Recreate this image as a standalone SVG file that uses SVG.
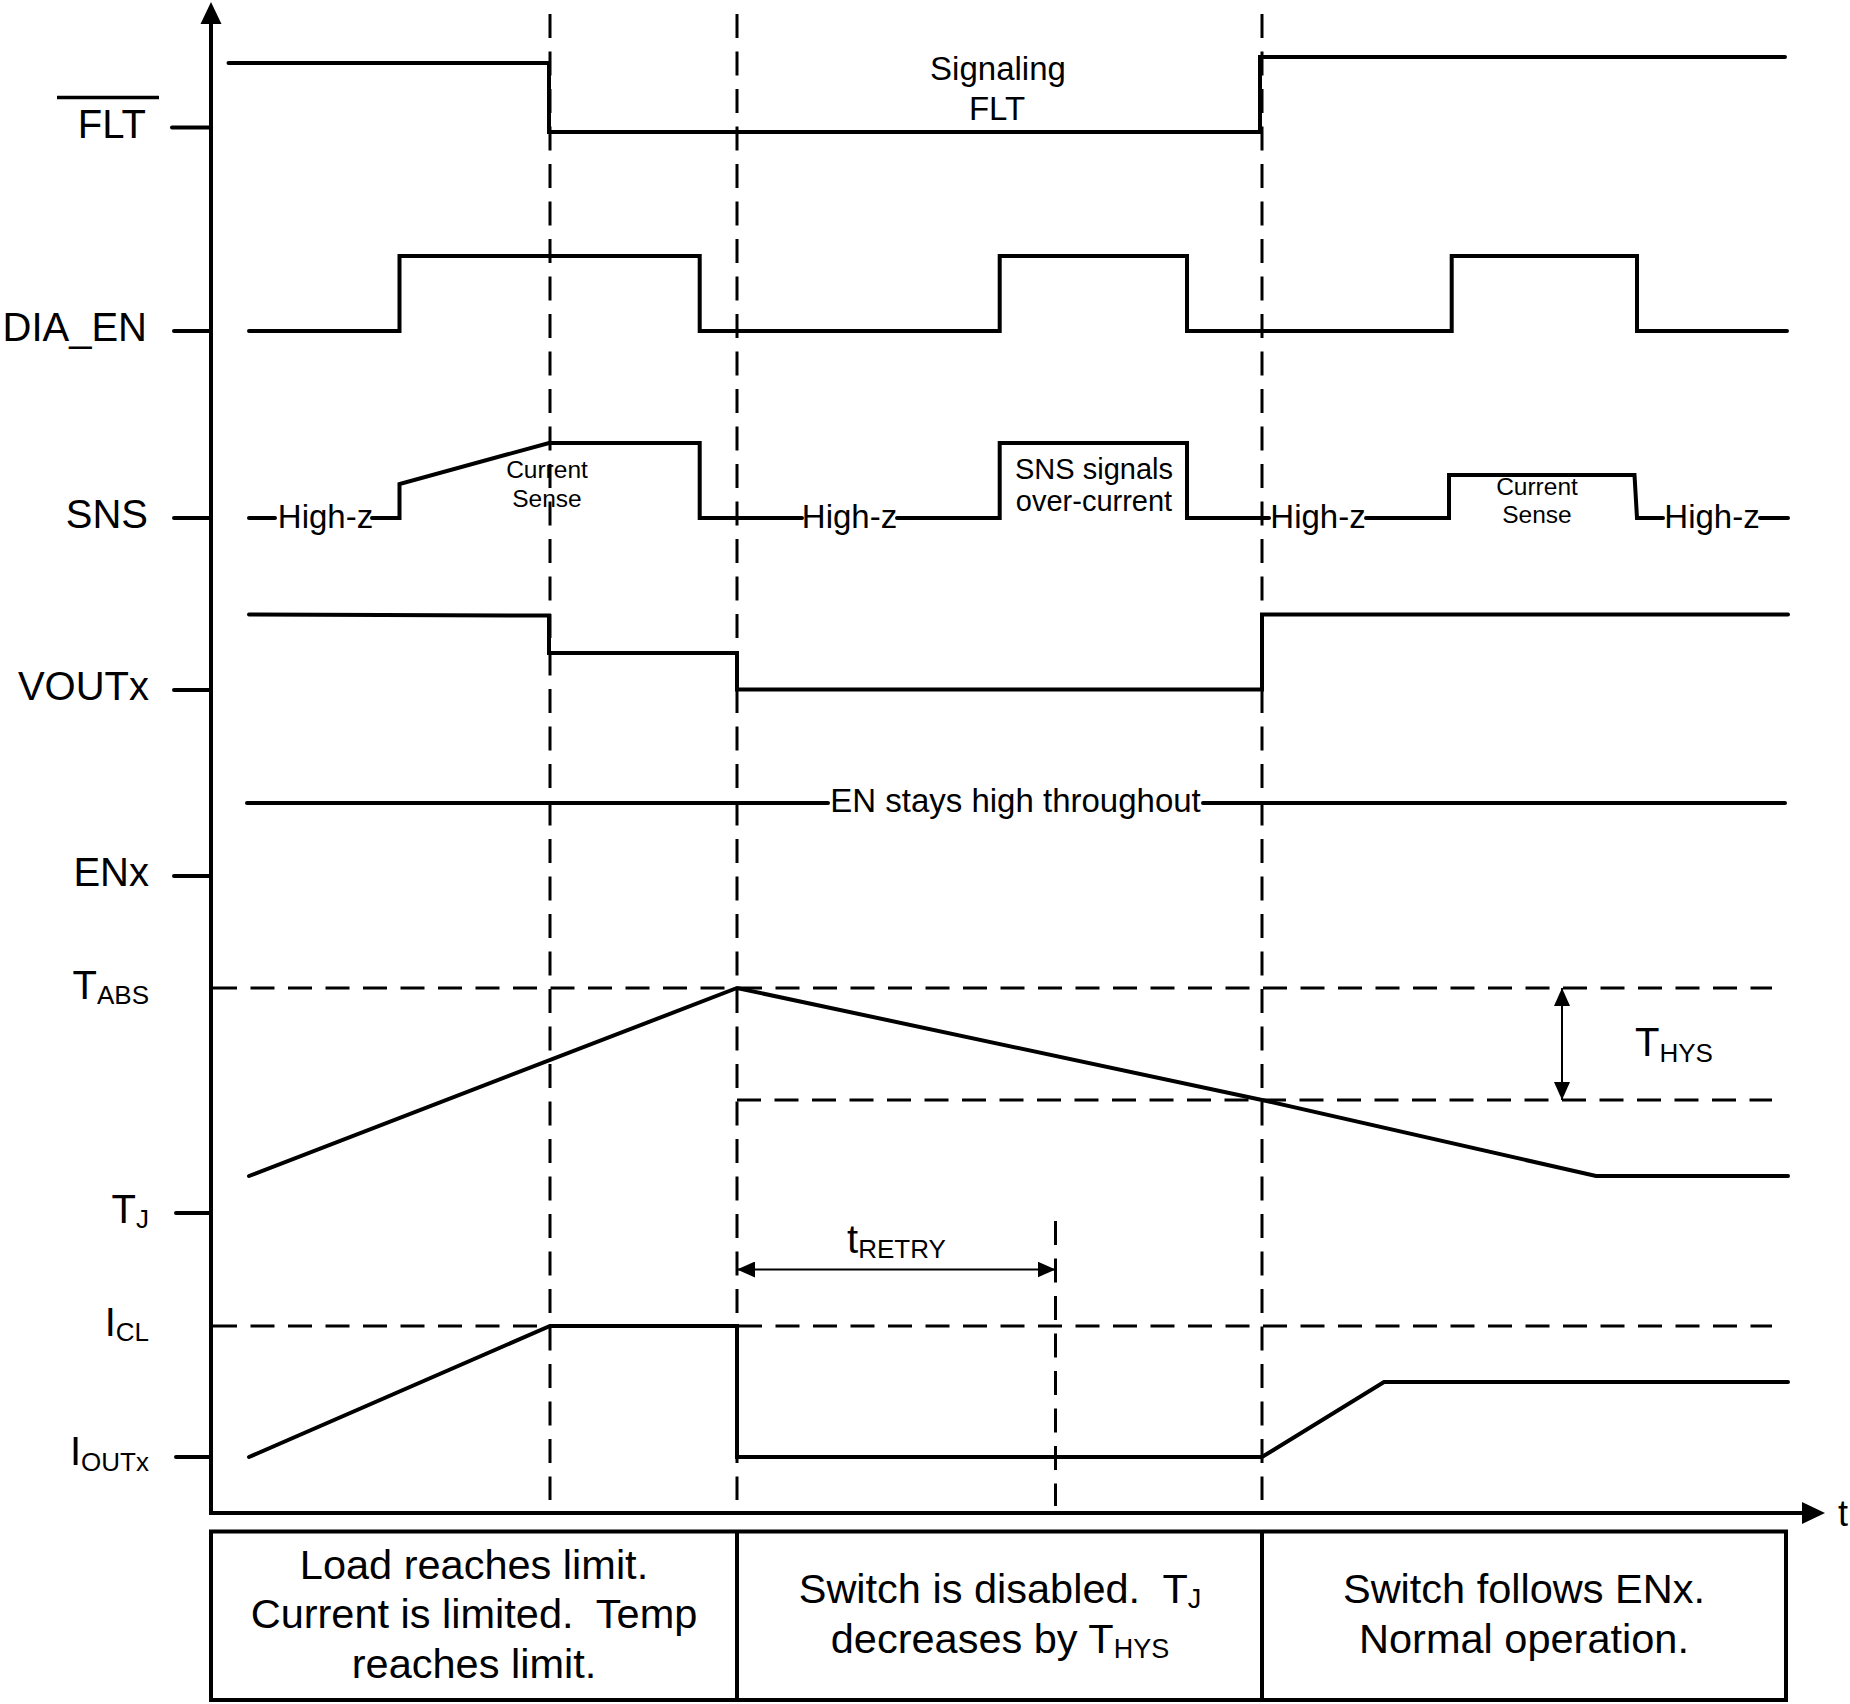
<svg xmlns="http://www.w3.org/2000/svg" width="1850" height="1704" viewBox="0 0 1850 1704">
<style>
text{font-family:"Liberation Sans",Arial,sans-serif;fill:#000;white-space:pre}
.sig{fill:none;stroke:#000;stroke-width:4;stroke-linecap:round;stroke-linejoin:miter}
.ax{fill:none;stroke:#000;stroke-width:4;stroke-linecap:butt}
.tick{stroke:#000;stroke-width:4;stroke-linecap:round}
.dash{fill:none;stroke:#000;stroke-width:3;stroke-dasharray:24 13.5}
.dim{stroke:#000;stroke-width:2;marker-start:url(#ah);marker-end:url(#ah)}
.name{font-size:40px;text-anchor:end}
.mid{font-size:33px;text-anchor:middle}
.small{font-size:24.5px;text-anchor:middle}
.box{font-size:41.5px;text-anchor:middle}
</style>
<defs>
<marker id="ah" viewBox="0 0 18 16" refX="18" refY="8" markerWidth="18" markerHeight="16" markerUnits="userSpaceOnUse" orient="auto-start-reverse">
<path d="M0,0 L18,8 L0,16 z" fill="#000"/>
</marker>
</defs>
<rect width="1850" height="1704" fill="#fff"/>

<g id="axes">
<line class="ax" x1="211" y1="22" x2="211" y2="1515"/>
<polygon points="211,2 200.5,24 221.5,24" fill="#000"/>
<line class="ax" x1="209" y1="1513" x2="1805" y2="1513"/>
<polygon points="1825,1513 1802,1502 1802,1524" fill="#000"/>
<text x="1838" y="1526" style="font-size:36px">t</text>
<line class="tick" x1="172" y1="127.5" x2="211" y2="127.5"/>
<line class="tick" x1="174" y1="331" x2="211" y2="331"/>
<line class="tick" x1="174" y1="518" x2="211" y2="518"/>
<line class="tick" x1="174" y1="690" x2="211" y2="690"/>
<line class="tick" x1="174" y1="876" x2="211" y2="876"/>
<line class="tick" x1="176" y1="1213" x2="211" y2="1213"/>
<line class="tick" x1="176" y1="1457" x2="211" y2="1457"/>
</g>

<g id="labels">
<text class="name" x="146" y="137.5">FLT</text>
<line x1="57" y1="97.5" x2="159" y2="97.5" stroke="#000" stroke-width="3.5"/>
<text class="name" x="147" y="341">DIA_EN</text>
<text class="name" x="148" y="528">SNS</text>
<text class="name" x="149" y="700">VOUTx</text>
<text class="name" x="149" y="886">ENx</text>
<text class="name" x="149" y="998.5">T<tspan style="font-size:26px" dy="5">ABS</tspan></text>
<text class="name" x="149" y="1222.5">T<tspan style="font-size:26px" dy="5">J</tspan></text>
<text class="name" x="149" y="1336">I<tspan style="font-size:26px" dy="5">CL</tspan></text>
<text class="name" x="149" y="1465">I<tspan style="font-size:26px" dy="6">OUTx</tspan></text>
</g>

<g id="connectors">
<line class="dash" x1="550" y1="14" x2="550" y2="1500"/>
<line class="dash" x1="737" y1="14" x2="737" y2="1500"/>
<line class="dash" x1="1262" y1="14" x2="1262" y2="1500"/>
<line class="dash" x1="1055.5" y1="1221" x2="1055.5" y2="1506"/>
<line class="dash" x1="213" y1="988" x2="1772" y2="988"/>
<line class="dash" x1="737" y1="1100" x2="1772" y2="1100"/>
<line class="dash" x1="213" y1="1326" x2="1772" y2="1326"/>
<line class="dim" x1="1562" y1="988" x2="1562" y2="1100"/>
<line class="dim" x1="737" y1="1269.5" x2="1055.5" y2="1269.5"/>
</g>

<g id="flt">
<path class="sig" d="M228.5,63 H549 V132 H1260 V57 H1785"/>
<text class="mid" x="998" y="80">Signaling</text>
<text class="mid" x="997" y="120">FLT</text>
</g>

<g id="dia_en">
<path class="sig" d="M249,331 H399.5 V256 H699.7 V331 H999.7 V256 H1187 V331 H1451.7 V256 H1637 V331 H1787"/>
</g>

<g id="sns">
<path class="sig" d="M249,518 H275"/>
<text class="mid" x="325.5" y="528">High-z</text>
<path class="sig" d="M372,518 H399.5 V484 L549,443 H699.7 V518 H802"/>
<text class="mid" x="849.5" y="528">High-z</text>
<path class="sig" d="M897,518 H999.7 V443 H1187 V518 H1269"/>
<text class="mid" x="1318" y="528">High-z</text>
<path class="sig" d="M1366,518 H1449 V475 H1634.5 L1637,518 H1663"/>
<text class="mid" x="1712" y="528">High-z</text>
<path class="sig" d="M1760,518 H1788"/>
<text class="small" x="547" y="478">Current</text>
<text class="small" x="547" y="507">Sense</text>
<text class="mid" x="1094" y="478.5" style="font-size:29px">SNS signals</text>
<text class="mid" x="1094" y="511" style="font-size:29px">over-current</text>
<text class="small" x="1537" y="495">Current</text>
<text class="small" x="1537" y="523">Sense</text>
</g>

<g id="voutx">
<path class="sig" d="M249,614.6 L549,615.5 V653 H737 V689.6 H1262 V614.6 H1788"/>
</g>

<g id="enx">
<path class="sig" d="M247,803 H828"/>
<text class="mid" x="1015.5" y="812">EN stays high throughout</text>
<path class="sig" d="M1203,803 H1785"/>
</g>

<g id="tj">
<path class="sig" d="M249,1176 L737,988 L1262,1100 L1596,1176 H1788"/>
<text x="1635" y="1056" style="font-size:40px">T<tspan style="font-size:26px" dy="6">HYS</tspan></text>
</g>

<g id="ioutx">
<path class="sig" d="M249,1457 L550,1326 H737 V1457 H1262 L1384,1382 H1788"/>
<text x="847" y="1253" style="font-size:40px">t<tspan style="font-size:26px" dy="5">RETRY</tspan></text>
</g>

<g id="phases">
<rect x="211" y="1531.5" width="1575" height="168.5" fill="none" stroke="#000" stroke-width="4"/>
<line x1="737" y1="1531.5" x2="737" y2="1700" stroke="#000" stroke-width="4"/>
<line x1="1262" y1="1531.5" x2="1262" y2="1700" stroke="#000" stroke-width="4"/>
<text class="box" x="474" y="1579">Load reaches limit.</text>
<text class="box" x="474" y="1628">Current is limited.  Temp</text>
<text class="box" x="474" y="1678">reaches limit.</text>
<text class="box" x="1000" y="1603">Switch is disabled.  T<tspan style="font-size:27px" dy="5">J</tspan></text>
<text class="box" x="1000" y="1653">decreases by T<tspan style="font-size:27px" dy="5">HYS</tspan></text>
<text class="box" x="1524" y="1603">Switch follows ENx.</text>
<text class="box" x="1524" y="1653">Normal operation.</text>
</g>
</svg>
